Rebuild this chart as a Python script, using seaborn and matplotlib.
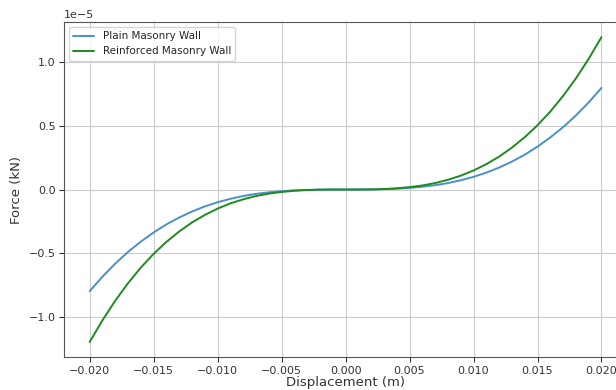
#Import Libraries
import pandas as pd
import matplotlib.pyplot as plt
import seaborn as sns

#Data (displacement in m, force in units of 1e-5 kN)
displacement = [-0.020, -0.019, -0.018, -0.017, -0.016, -0.015, -0.014, -0.013, -0.012, -0.011,
                -0.010, -0.009, -0.008, -0.007, -0.006, -0.005, -0.004, -0.003, -0.002, -0.001,
                0.000, 0.001, 0.002, 0.003, 0.004, 0.005, 0.006, 0.007, 0.008, 0.009,
                0.010, 0.011, 0.012, 0.013, 0.014, 0.015, 0.016, 0.017, 0.018, 0.019, 0.020]
plain_force = [-0.800, -0.686, -0.583, -0.491, -0.410, -0.338, -0.274, -0.220, -0.173, -0.133,
               -0.100, -0.073, -0.051, -0.034, -0.022, -0.013, -0.006, -0.003, -0.001, 0.000,
               0.000, 0.000, 0.001, 0.003, 0.006, 0.013, 0.022, 0.034, 0.051, 0.073,
               0.100, 0.133, 0.173, 0.220, 0.274, 0.338, 0.410, 0.491, 0.583, 0.686, 0.800]
reinforced_force = [-1.200, -1.029, -0.875, -0.737, -0.614, -0.506, -0.412, -0.330, -0.259, -0.200,
                    -0.150, -0.109, -0.077, -0.051, -0.032, -0.019, -0.010, -0.004, -0.001, 0.000,
                    0.000, 0.000, 0.001, 0.004, 0.010, 0.019, 0.032, 0.051, 0.077, 0.109,
                    0.150, 0.200, 0.259, 0.330, 0.412, 0.506, 0.614, 0.737, 0.875, 1.029, 1.200]
series_names = ['Plain Masonry Wall', 'Reinforced Masonry Wall']
series_colors = ['#4a90c8', '#1f8a1f']

#Long-format table for seaborn
df = pd.concat([
    pd.DataFrame({'Displacement': displacement,
                  'Force': [v * 1e-5 for v in plain_force],
                  'Wall': series_names[0]}),
    pd.DataFrame({'Displacement': displacement,
                  'Force': [v * 1e-5 for v in reinforced_force],
                  'Wall': series_names[1]}),
])

sns.set_style('ticks')
plt.rcParams['font.family'] = ['DejaVu Sans']

fig = plt.figure(figsize=(6.16, 3.9), dpi=100)
#axes runs past the right edge, like the cropped reference
ax = fig.add_axes([0.104, 0.084, 0.914, 0.86])

sns.lineplot(data=df, x='Displacement', y='Force', hue='Wall',
             palette=dict(zip(series_names, series_colors)), linewidth=1.4, ax=ax)

ax.grid(True, color='#cccccc', linewidth=0.8)
ax.set_xlabel('Displacement (m)', fontsize=9.5, color='#333333', labelpad=0)
ax.set_ylabel('Force (kN)', fontsize=9.5, color='#333333')
ax.tick_params(labelsize=8, colors='#333333', pad=2.5)
ax.yaxis.get_offset_text().set_fontsize(8)
ax.set_yticks([-1.0e-5, -0.5e-5, 0, 0.5e-5, 1.0e-5])
for s in ax.spines.values():
    s.set_color('#555555')
    s.set_visible(True)
ax.legend(loc='upper left', fontsize=7.5, title=None, frameon=True)

plt.savefig('out.png', dpi=100)
